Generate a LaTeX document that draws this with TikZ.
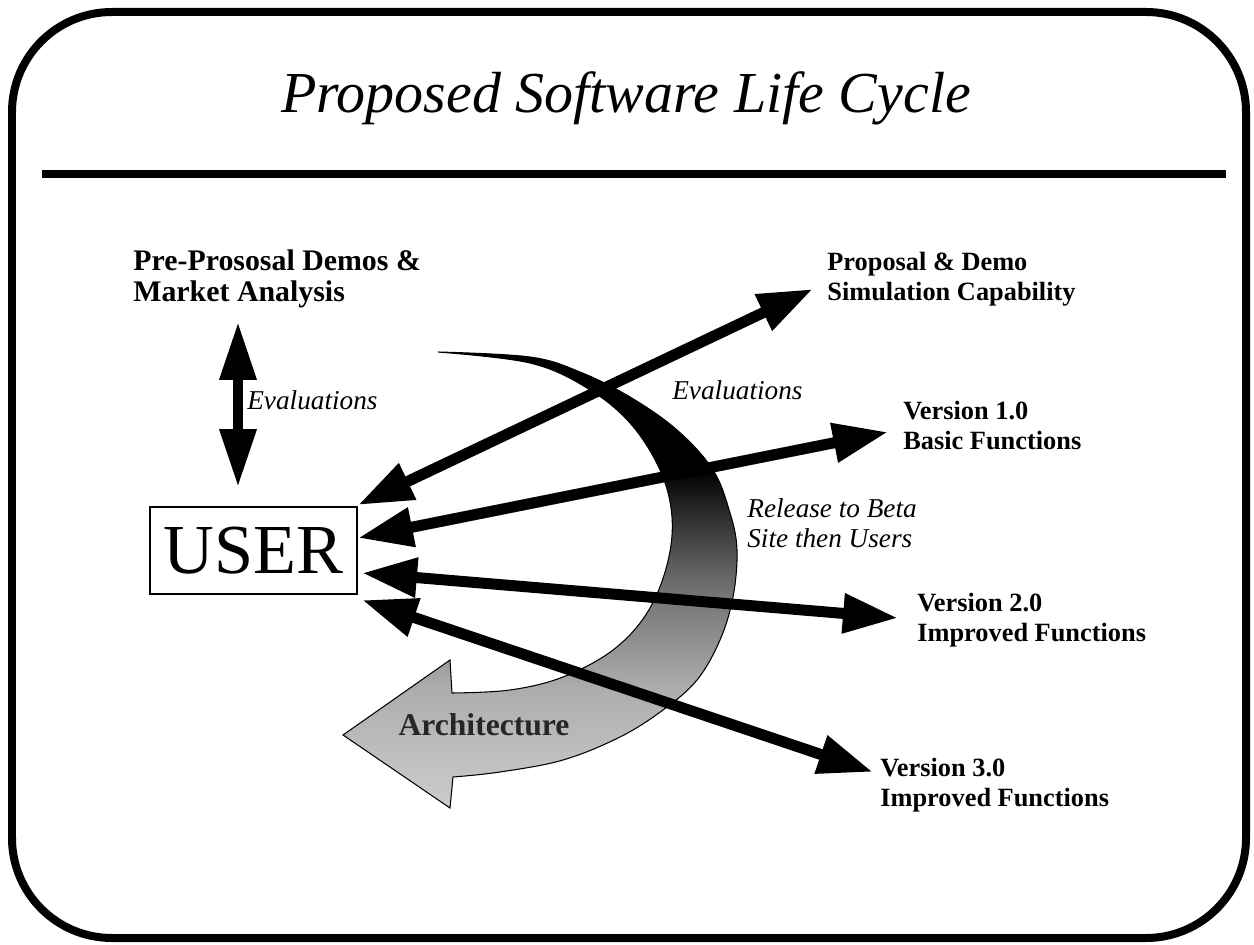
\documentclass[tikz,border=0pt]{standalone}
\usepackage{fontspec}
\setmainfont{Liberation Serif}
\usetikzlibrary{arrows.meta}

\pgfdeclareverticalshading{archshade}{100bp}{color(0bp)=(black!20); color(25bp)=(black!20); color(38bp)=(black!32); color(50bp)=(black!58); color(57bp)=(black!82); color(62bp)=(black); color(100bp)=(black)}

\tikzset{
  biarrow/.style={line width=0.22cm, {Triangle[length=1.1cm,width=0.75cm]}-{Triangle[length=1.1cm,width=0.75cm]}},
  lab/.style={font=\fontsize{15}{17}\selectfont\bfseries, align=left, inner sep=0pt, anchor=north west},
  ital/.style={font=\fontsize{15.5}{17}\selectfont\itshape, align=left, inner sep=0pt},
}

\begin{document}
\begin{tikzpicture}[x=0.02cm, y=-0.02cm]

    \useasboundingbox (0,0) rectangle (1254,945);

    %%frame
    \draw[line width=0.16cm, rounded corners=2cm] (12,12) rectangle (1246,938);
    \draw[line width=0.16cm] (42,174) to (1226,174);
    \node[font=\fontsize{33}{38}\selectfont\itshape, anchor=base] (title) at (626,113) {Proposed Software Life Cycle};

    %%architecture arrow
    \shade[shading=archshade, draw=black, line width=0.6pt]
        plot[smooth, tension=0.6] coordinates {(438,352) (530,357) (580,372) (630,397) (677,430) (713,470) (730,513) (737,550) (733,597) (720,640) (697,680) (663,710) (620,737) (563,760) (500,772) (453,777)}
        -- (450,808) -- (343,735) -- (450,660) --
        plot[smooth, tension=0.6] coordinates {(452,693) (510,690) (563,677) (613,650) (647,613) (667,565) (672,517) (660,470) (630,423) (587,388) (530,363) (438,352)}
        -- cycle;
    \node[font=\fontsize{18}{19}\selectfont\bfseries, text=black!85] (arch) at (484,725) {Architecture};

    %%user
    \node[draw, line width=0.05cm, minimum width=4.14cm, minimum height=1.74cm, inner sep=0pt,
          font=\fontsize{40}{42}\selectfont] (user) at (253.5,550.5) {USER};

    \node[lab, font=\fontsize{17}{18}\selectfont\bfseries] (pre) at (133,249) {Pre-Prososal Demos \&\\Market Analysis};
    \node[lab] (prop) at (827,252) {Proposal \& Demo\\Simulation Capability};
    \node[lab] (v1) at (903,401) {Version 1.0\\Basic Functions};
    \node[lab] (v2) at (917,593) {Version 2.0\\Improved Functions};
    \node[lab] (v3) at (880,758) {Version 3.0\\Improved Functions};

    \node[ital, anchor=base west] (eva) at (247,410) {Evaluations};
    \node[ital, anchor=base west] (evb) at (672,400) {Evaluations};
    \node[ital, anchor=north west] (rel) at (747,498) {Release to Beta\\Site then Users};

    %%arrows
    \coordinate (e0) at (238,322);
    \coordinate (u0) at (238,487);
    \draw[line width=0.2cm, {Triangle[length=1.16cm,width=0.7cm]}-{Triangle[length=1.16cm,width=0.7cm]}] (e0) to (u0);

    \coordinate (u1) at (358,505);
    \coordinate (u2) at (358,538);
    \coordinate (u3) at (362,573);
    \coordinate (u4) at (362,600);
    \coordinate (p1) at (813,289);
    \coordinate (p2) at (888,432);
    \coordinate (p3) at (898,618);
    \coordinate (p4) at (873,772);

    \draw[biarrow] (u1) to (p1);
    \draw[biarrow] (u2) to (p2);
    \draw[biarrow] (u3) to (p3);
    \draw[biarrow] (u4) to (p4);
\end{tikzpicture}
\end{document}
